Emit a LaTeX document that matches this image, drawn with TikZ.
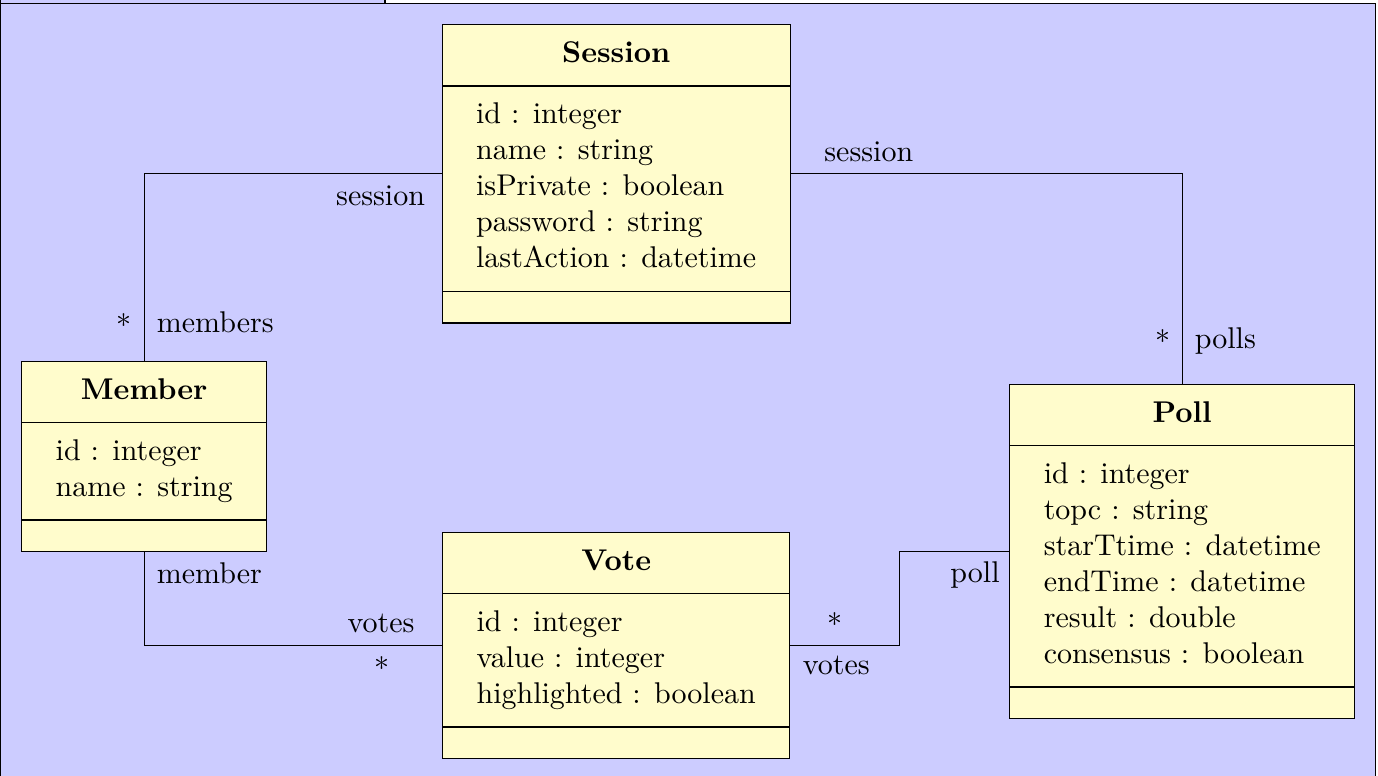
\documentclass[tikz,border=0pt]{standalone}
\usepackage{tikz}
\usetikzlibrary{
    shapes.multipart,
    calc
}
\tikzset{%
   umlclass/.style={
      draw=black,
      fill=yellow!20,
      rectangle split,
      rectangle split parts=3,
      rectangle split part align={center,left,left},
      inner xsep=11.3pt,
      inner ysep=4pt
   },
   role/.style={
      inner sep=0pt
   },
   mult/.style={
      inner sep=0pt
   },
   pkgframe/.style={
      fill=blue!20
   },
}
\newcommand\attrs[1]{%
  \begin{tabular}{@{}l@{}}#1\end{tabular}%
}
\newcommand\noops{\rule{0pt}{2.2pt}}

\begin{document}
\begin{tikzpicture}[x=0.3333pt, y=-0.3333pt]
   \useasboundingbox (0,0) rectangle (1378,776);
   % package frame
   \fill[pkgframe] (0,-30) rectangle (385,3.2);
   \fill[pkgframe] (0,3.2) rectangle (1375.3,810);
   \draw (0.8,-30) -- (0.8,810);
   \draw (0,3.2) -- (1375.3,3.2) -- (1375.3,810);
   \draw (385,-30) -- (385,3.2);
   % classes
   \node[umlclass] (Session) at (616.2,173.9) {\textbf{Session}\strut
      \nodepart{second}\attrs{id : integer\\ name : string\\ isPrivate : boolean\\
         password : string\\ lastAction : datetime}
      \nodepart{third}\noops};
   \node[umlclass] (Member) at (144.2,456.7) {\textbf{Member}\strut
      \nodepart{second}\attrs{id : integer\\ name : string}
      \nodepart{third}\noops};
   \node[umlclass] (Poll) at (1182.2,551.7) {\textbf{Poll}\strut
      \nodepart{second}\attrs{id : integer\\ topc : string\\ starTtime : datetime\\
         endTime : datetime\\ result : double\\ consensus : boolean}
      \nodepart{third}\noops};
   \node[umlclass] (Vote) at (616.2,645.7) {\textbf{Vote}\strut
      \nodepart{second}\attrs{id : integer\\ value : integer\\ highlighted : boolean}
      \nodepart{third}\noops};
   % associations
   \draw (Session.west) -| (Member.north);
   \draw (Session.east) -| (Poll.north);
   \draw (Member.south) |- (Vote.west);
   \draw (Vote.east) -| ($(Vote.east)!.5!(Poll.west)$) |- (Poll.west);
   % roles and multiplicities
   \node[role, anchor=base east] (rSessionM) at ($(Session.west)+(-16,32)$) {session};
   \node[role, anchor=base west] (rMembers) at ($(Member.north)+(12,-28)$) {members};
   \node[mult] (mMembers) at ($(Member.north)+(-20,-40.5)$) {$*$};
   \node[role, anchor=base west] (rSessionP) at ($(Session.east)+(33,-12)$) {session};
   \node[role, anchor=base west] (rPolls) at ($(Poll.north)+(12,-35)$) {polls};
   \node[mult] (mPolls) at ($(Poll.north)+(-19.5,-47.5)$) {$*$};
   \node[role, anchor=base west] (rMember) at ($(Member.south)+(12,31)$) {member};
   \node[role, anchor=base east] (rVotesM) at ($(Vote.west)+(-27,-13)$) {votes};
   \node[mult] (mVotesM) at ($(Vote.west)+(-60.5,18)$) {$*$};
   \node[role, anchor=base east] (rPoll) at ($(Poll.west)+(-9,31)$) {poll};
   \node[role, anchor=base west] (rVotesP) at ($(Vote.east)+(12,29)$) {votes};
   \node[mult] (mVotesP) at ($(Vote.east)+(44.5,-26)$) {$*$};
\end{tikzpicture}
\end{document}
